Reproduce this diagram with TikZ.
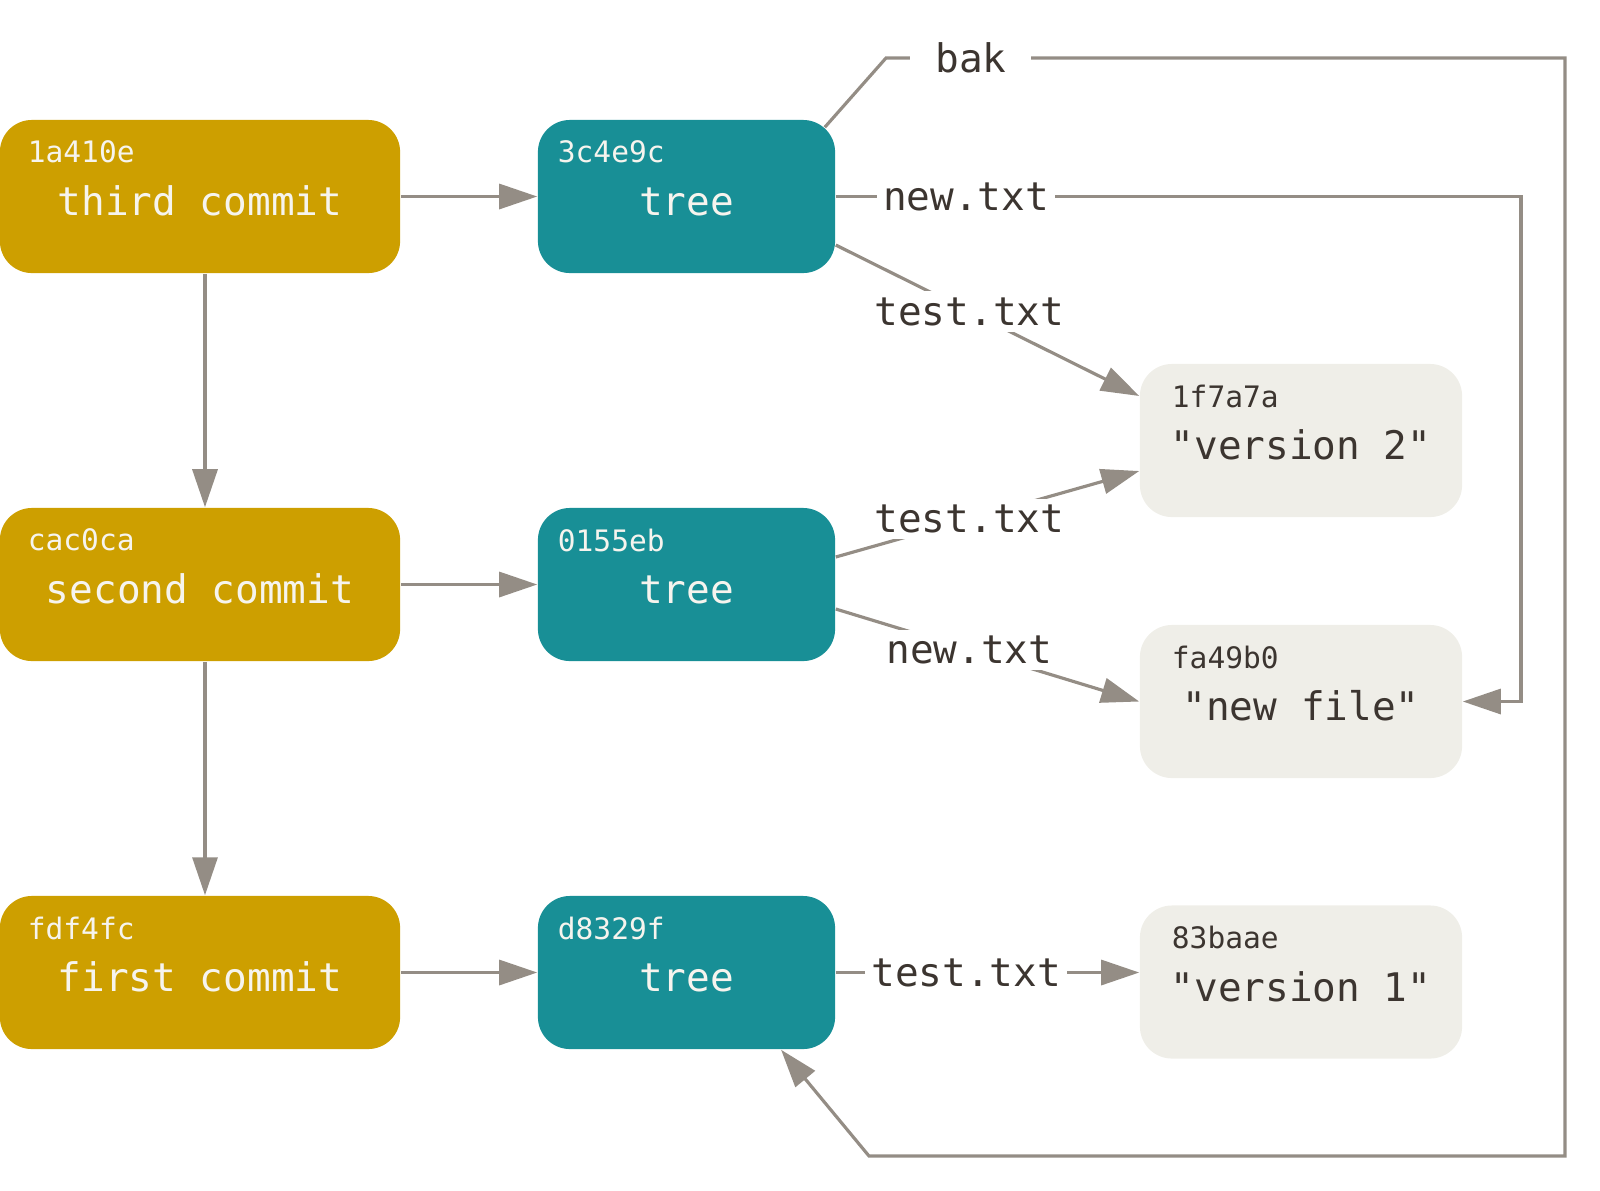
\documentclass[tikz,border=0pt]{standalone}
\usepackage{fontspec}
\setmonofont{DejaVu Sans Mono}
\usepackage{tikz}
\usetikzlibrary{arrows.meta,calc}

\definecolor{commitgold}{RGB}{205,159,0}
\definecolor{treeteal}{RGB}{24,143,150}
\definecolor{blobgrey}{RGB}{239,238,232}
\definecolor{linkgrey}{RGB}{148,141,133}
\definecolor{inkdark}{RGB}{60,53,48}
\definecolor{inklight}{RGB}{246,244,238}

\newcommand{\mainfnt}{\ttfamily\fontsize{11.2}{13}\selectfont}
\newcommand{\hashfnt}{\ttfamily\fontsize{8.4}{10}\selectfont}

\tikzset{
    objbox/.style={rounded corners=0.32cm, minimum height=1.53cm, inner sep=0pt, text height=0.38cm, text depth=0pt, font=\mainfnt},
    commitbox/.style={objbox, fill=commitgold, text=inklight, minimum width=4cm},
    treebox/.style={objbox, fill=treeteal, text=inklight, minimum width=2.97cm},
    blobbox/.style={objbox, fill=blobgrey, text=inkdark, minimum width=3.22cm},
    hashlbl/.style={anchor=north west, inner sep=0pt, text height=, text depth=, font=\hashfnt, yshift=-0.21cm},
    link/.style={draw=linkgrey, line width=0.9pt, -{Triangle[length=0.38cm,width=0.25cm]}, color=linkgrey},
    fname/.style={fill=white, text=inkdark, inner sep=0.06cm, font=\mainfnt}
}

\begin{document}
\begin{tikzpicture}[x=0.01cm, y=-0.01cm]
    \useasboundingbox (0,0) rectangle (1600,1190);

    % Commits
    \node[commitbox, label={[hashlbl, xshift=0.28cm, text=inklight]north west:1a410e}] (c3) at (200,196.5) {third commit};
    \node[commitbox, label={[hashlbl, xshift=0.28cm, text=inklight]north west:cac0ca}] (c2) at (200,584.5) {second commit};
    \node[commitbox, label={[hashlbl, xshift=0.28cm, text=inklight]north west:fdf4fc}] (c1) at (200,972.5) {first commit};

    % Trees
    \node[treebox, label={[hashlbl, xshift=0.2cm, text=inklight]north west:3c4e9c}] (t3) at (686.5,196.5) {tree};
    \node[treebox, label={[hashlbl, xshift=0.2cm, text=inklight]north west:0155eb}] (t2) at (686.5,584.5) {tree};
    \node[treebox, label={[hashlbl, xshift=0.2cm, text=inklight]north west:d8329f}] (t1) at (686.5,972.5) {tree};

    % Blobs
    \node[blobbox, label={[hashlbl, xshift=0.32cm, text=inkdark]north west:1f7a7a}] (bver2) at (1301,440.5) {"version 2"};
    \node[blobbox, label={[hashlbl, xshift=0.32cm, text=inkdark]north west:fa49b0}] (bnew) at (1301,701.5) {"new file"};
    \node[blobbox, label={[hashlbl, xshift=0.32cm, text=inkdark]north west:83baae}] (bver1) at (1301,982) {"version 1"};

    % Commit -> tree, parent links
    \foreach \n in {1,2,3} {
        \draw[link] (c\n.east) -- (t\n.west);
    }
    \draw[link] ([xshift=0.05cm]c3.south) -- ([xshift=0.05cm]c2.north);
    \draw[link] ([xshift=0.05cm]c2.south) -- ([xshift=0.05cm]c1.north);

    % Tree entries
    \coordinate (newright) at (1521,0);
    \draw[link] (t3.east) -- node[fname, pos=0.19] {new.txt} (t3.east -| newright) |- (bnew.east);
    \draw[link] ([yshift=-0.485cm]t3.east) -- node[fname, pos=0.44] {test.txt} ([yshift=0.445cm]bver2.west);
    \draw[link] ([yshift=0.275cm]t2.east) -- node[fname, pos=0.44] {test.txt} ([yshift=-0.305cm]bver2.west);
    \draw[link] ([yshift=-0.245cm]t2.east) -- node[fname, pos=0.44] {new.txt} (bnew.west);
    \draw[link] (t1.east) -- node[fname, pos=0.43] {test.txt} (t1.east -| bver1.west);

    % bak entry back to the first tree
    \coordinate (bakstart) at ([xshift=-0.11cm, yshift=-0.08cm]t3.north east);
    \coordinate (bakbend) at (886,58);
    \coordinate (bakright) at (1565,58);
    \coordinate (bakbottom) at (869,1156);
    \draw[link] (bakstart) -- (bakbend) -- node[fname, pos=0.125, inner xsep=0.25cm] {bak} (bakright)
        |- (bakbottom) -- ([xshift=0.945cm]t1.south);
\end{tikzpicture}
\end{document}
